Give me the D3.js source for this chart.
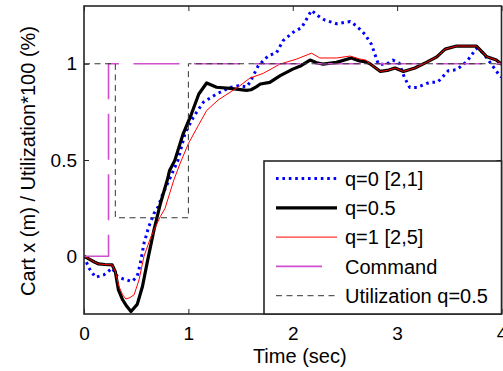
<!DOCTYPE html>
<html>
<head>
<meta charset="utf-8">
<script src="https://cdn.jsdelivr.net/npm/d3@7"></script>
<style>
  body { margin: 0; background: #fff; }
  svg { display: block; font-family: Arial, "Liberation Sans", sans-serif; }
  .tick text { font-size: 19px; fill: #000; }
  .axis-title { font-size: 20px; fill: #000; }
  .legend-label { font-size: 20px; fill: #000; }
</style>
</head>
<body>
<svg id="chart"></svg>
<script>
// x ticks / y ticks
const xTicks = [0, 1, 2, 3, 4];
const yTicks = [0, 0.5, 1];

// q=0 [2,1]
const q0Time = [0, 0.048, 0.11, 0.19, 0.27, 0.32, 0.38, 0.46, 0.51, 0.54, 0.575, 0.62, 0.67, 0.71, 0.75, 0.9, 0.967, 1.047, 1.143, 1.27, 1.4, 1.48, 1.556, 1.59, 1.67, 1.765, 1.845, 1.908, 2.0, 2.085, 2.18, 2.245, 2.31, 2.42, 2.55, 2.61, 2.69, 2.755, 2.82, 2.9, 2.96, 3.02, 3.07, 3.12, 3.19, 3.31, 3.39, 3.49, 3.57, 3.665, 3.76, 3.82, 3.89, 3.98, 4.0];
const q0Value = [0, -0.062, -0.109, -0.097, -0.062, -0.105, -0.119, -0.131, -0.105, -0.036, 0.067, 0.153, 0.222, 0.257, 0.317, 0.498, 0.636, 0.722, 0.8, 0.843, 0.877, 0.886, 0.88, 0.903, 0.99, 1.041, 1.058, 1.12, 1.162, 1.188, 1.277, 1.248, 1.226, 1.208, 1.219, 1.197, 1.154, 1.1, 0.998, 0.998, 1.019, 1.003, 0.929, 0.877, 0.877, 0.903, 0.905, 0.964, 0.969, 1.01, 1.08, 1.058, 1.007, 0.94, 0.93];

// q=0.5
const q05Time = [0, 0.05, 0.1, 0.14, 0.2, 0.27, 0.3, 0.33, 0.37, 0.41, 0.45, 0.51, 0.56, 0.61, 0.67, 0.73, 0.8, 0.82, 0.87, 0.95, 1.03, 1.1, 1.175, 1.22, 1.27, 1.4, 1.556, 1.6, 1.65, 1.69, 1.78, 1.88, 2.0, 2.08, 2.165, 2.23, 2.29, 2.42, 2.56, 2.64, 2.7, 2.74, 2.84, 2.92, 2.98, 3.06, 3.17, 3.28, 3.38, 3.46, 3.57, 3.76, 3.86, 3.95, 4.0];
const q05Value = [0, -0.015, -0.03, -0.04, -0.043, -0.045, -0.08, -0.175, -0.226, -0.26, -0.287, -0.25, -0.157, -0.02, 0.136, 0.27, 0.4, 0.446, 0.498, 0.636, 0.74, 0.843, 0.9, 0.89, 0.878, 0.872, 0.862, 0.865, 0.88, 0.895, 0.903, 0.938, 0.972, 0.99, 1.019, 1.005, 0.998, 1.007, 1.03, 1.015, 1.01, 1.0, 0.96, 0.967, 0.978, 0.96, 0.978, 1.007, 1.036, 1.076, 1.092, 1.092, 1.036, 1.019, 0.998];

// q=1 [2,5]
const q1Time = [0, 0.05, 0.1, 0.14, 0.2, 0.27, 0.3, 0.335, 0.37, 0.4, 0.44, 0.48, 0.527, 0.575, 0.64, 0.73, 0.776, 0.86, 0.92, 1.0, 1.095, 1.175, 1.286, 1.4, 1.48, 1.59, 1.717, 1.877, 2.036, 2.18, 2.26, 2.42, 2.55, 2.64, 2.7, 2.74, 2.84, 2.92, 2.98, 3.06, 3.17, 3.28, 3.38, 3.46, 3.57, 3.76, 3.86, 3.95, 4.0];
const q1Value = [0, -0.015, -0.03, -0.04, -0.043, -0.045, -0.08, -0.157, -0.2, -0.222, -0.215, -0.2, -0.123, 0, 0.1, 0.205, 0.248, 0.395, 0.481, 0.585, 0.679, 0.757, 0.812, 0.852, 0.88, 0.926, 0.95, 0.998, 1.024, 1.055, 1.03, 1.03, 1.04, 1.025, 1.019, 1.0, 0.96, 0.967, 0.978, 0.96, 0.978, 1.007, 1.036, 1.076, 1.092, 1.092, 1.036, 1.019, 0.998];

// Command
const cmdTime = [0, 0.235, 0.235, 4];
const cmdValue = [0, 0, 1, 1];

// Utilization q=0.5
const utilTime = [0, 0.3, 0.3, 1.0, 1.0, 4];
const utilValue = [1, 1, 0.2, 0.2, 1, 1];

const zip = (ts, vs) => ts.map((t, i) => ({t: t, v: vs[i]}));

const series = [
  {label: 'q=0 [2,1]', data: zip(q0Time, q0Value), color: '#0000ff', width: 3, dash: '2.6,3.8', legendDash: '2.6,3.8'},
  {label: 'q=0.5', data: zip(q05Time, q05Value), color: '#000000', width: 3.2, dash: null, legendDash: null},
  {label: 'q=1 [2,5]', data: zip(q1Time, q1Value), color: '#ff0000', width: 1, dash: null, legendDash: null},
  {label: 'Command', data: zip(cmdTime, cmdValue), color: '#d050d0', width: 1.6, dash: '46,14.5', legendDash: '46,15,1.2,20'},
  {label: 'Utilization q=0.5', data: zip(utilTime, utilValue), color: '#333333', width: 1, dash: '6,4.5', legendDash: '6,4.5'}
];

const width = 503, height = 371;
const margin = {top: 6, right: 1.5, bottom: 57, left: 84};
const innerW = width - margin.left - margin.right;
const innerH = height - margin.top - margin.bottom;

const svg = d3.select('#chart')
    .attr('width', width)
    .attr('height', height);

const chart = svg.append('g')
    .attr('transform', `translate(${margin.left},${margin.top})`);

const xScale = d3.scaleLinear().domain([0, 4]).range([0, innerW]);
const yScale = d3.scaleLinear().domain([-0.3, 1.3]).range([innerH, 0]);

chart.append('clipPath').attr('id', 'clip')
  .append('rect').attr('width', innerW).attr('height', innerH);

// axes with inward ticks on all four sides
const tickLen = 5;
const tidy = g => g.attr('font-family', null).attr('font-size', null).select('.domain').remove();

chart.append('g')
    .attr('transform', `translate(0,${innerH})`)
    .call(d3.axisBottom(xScale).tickValues(xTicks).tickFormat(d3.format('d')).tickSize(-tickLen).tickPadding(tickLen + 8))
    .call(tidy);
chart.append('g')
    .call(d3.axisTop(xScale).tickValues(xTicks).tickFormat('').tickSize(-tickLen))
    .call(tidy);
chart.append('g')
    .call(d3.axisLeft(yScale).tickValues(yTicks).tickFormat(d => d).tickSize(-tickLen).tickPadding(tickLen + 2))
    .call(tidy);
chart.append('g')
    .attr('transform', `translate(${innerW},0)`)
    .call(d3.axisRight(yScale).tickValues(yTicks).tickFormat('').tickSize(-tickLen))
    .call(tidy);

chart.selectAll('.tick line').attr('stroke', '#262626');

// lines
const line = d3.line()
    .x(d => xScale(d.t))
    .y(d => yScale(d.v));

chart.append('g')
    .attr('clip-path', 'url(#clip)')
  .selectAll('.series')
  .data(series)
  .join('path')
    .attr('class', 'series')
    .attr('fill', 'none')
    .attr('stroke', d => d.color)
    .attr('stroke-width', d => d.width)
    .attr('stroke-dasharray', d => d.dash)
    .attr('stroke-linejoin', 'round')
    .attr('d', d => line(d.data));

// box
chart.append('rect')
    .attr('width', innerW)
    .attr('height', innerH)
    .attr('fill', 'none')
    .attr('stroke', '#262626')
    .attr('stroke-width', 1.6);

// axis titles
chart.append('text')
    .attr('class', 'axis-title')
    .attr('x', innerW / 2 + 7)
    .attr('y', innerH + 49)
    .style('text-anchor', 'middle')
    .text('Time (sec)');

chart.append('text')
    .attr('class', 'axis-title')
    .attr('transform', `translate(${35 - margin.left},${161 - margin.top}) rotate(-90)`)
    .style('text-anchor', 'middle')
    .text('Cart x (m) / Utilization*100 (%)');

// legend
const legend = svg.append('g')
    .attr('transform', 'translate(264,161)');

legend.append('rect')
    .attr('width', width - margin.right - 264)
    .attr('height', margin.top + innerH - 161)
    .attr('fill', '#fff')
    .attr('stroke', '#262626')
    .attr('stroke-width', 1.6);

const rows = legend.selectAll('.legend-row')
  .data(series)
  .join('g')
    .attr('class', 'legend-row')
    .attr('transform', (d, i) => `translate(0,${17.5 + i * 29.3})`);

rows.append('line')
    .attr('x1', 12)
    .attr('x2', 73)
    .attr('stroke', d => d.color)
    .attr('stroke-width', d => d.width)
    .attr('stroke-dasharray', d => d.legendDash);

rows.append('text')
    .attr('class', 'legend-label')
    .attr('x', 81)
    .attr('dy', '0.36em')
    .text(d => d.label);
</script>
</body>
</html>
